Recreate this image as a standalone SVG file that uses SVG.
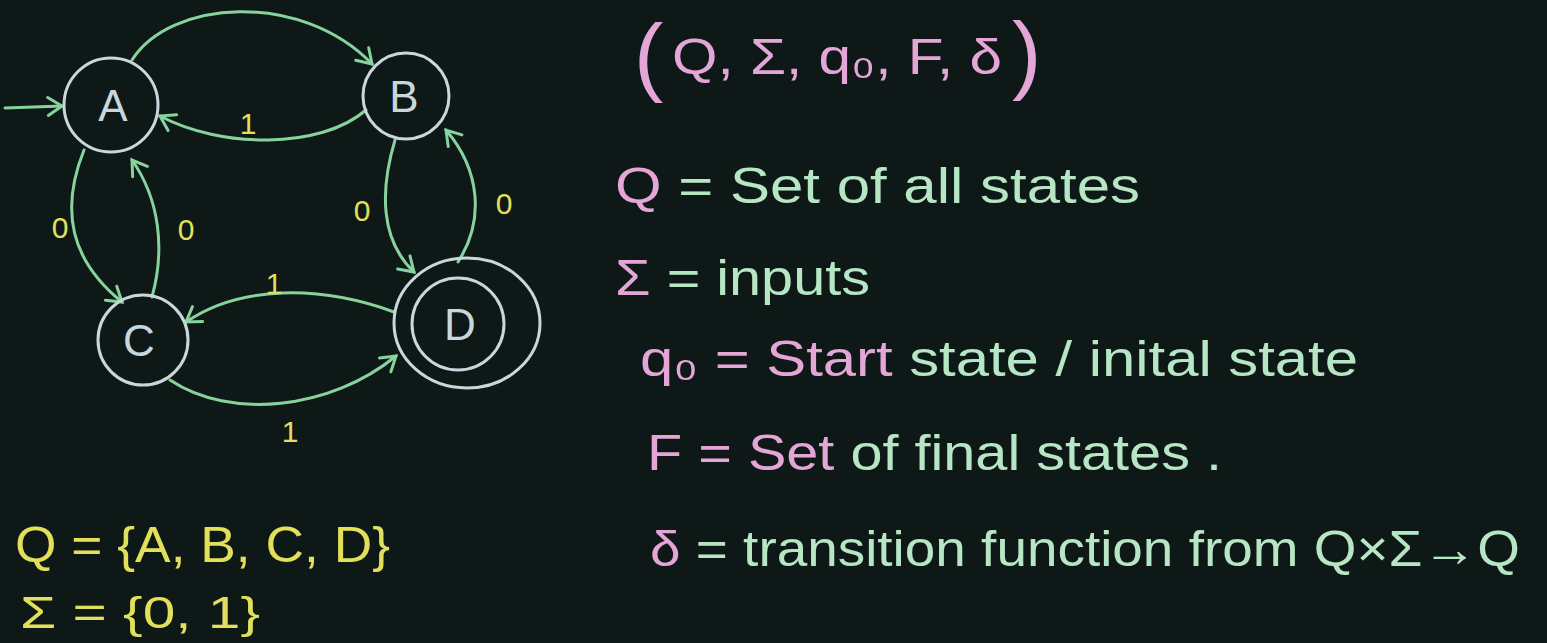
<svg xmlns="http://www.w3.org/2000/svg" width="1547" height="643" viewBox="0 0 1547 643">
<defs>
<style>
.node{fill:none;stroke:#c9d6dc;stroke-width:3}
.nl{fill:#c9d6dc;font-family:"Liberation Sans",sans-serif;font-size:44px;text-anchor:middle}
.edge{fill:none;stroke:#86d39e;stroke-width:3;stroke-linecap:round}
.lab{fill:#e2e05a;font-family:"Liberation Sans",sans-serif;font-size:30px;text-anchor:middle}
.pink{fill:#e3a6d6}
.grn{fill:#b6e6c4}
.yel{fill:#e2e05a}
.t{font-family:"Liberation Sans",sans-serif;font-size:50px}
.par{font-family:"Liberation Sans",sans-serif;font-size:88px}
</style>
<marker id="arr" markerUnits="userSpaceOnUse" markerWidth="22" markerHeight="22" refX="17" refY="11" orient="auto">
<path d="M3,2 L17,11 L3,20" fill="none" stroke="#86d39e" stroke-width="3" stroke-linecap="round"/>
</marker>
</defs>
<rect width="1547" height="643" fill="#0e1816"/>
<g id="connectors">
<path class="edge" d="M5,108 L62,106" marker-end="url(#arr)"/>
<path class="edge" d="M132,60 C170,0 300,-10 372,64" marker-end="url(#arr)"/>
<path class="edge" d="M366,110 C320,150 220,148 160,116" marker-end="url(#arr)"/>
<path class="edge" d="M84,150 C60,210 70,260 122,302" marker-end="url(#arr)"/>
<path class="edge" d="M152,297 C165,250 160,200 132,160" marker-end="url(#arr)"/>
<path class="edge" d="M395,140 C380,190 380,240 414,272" marker-end="url(#arr)"/>
<path class="edge" d="M458,262 C485,220 480,170 446,130" marker-end="url(#arr)"/>
<path class="edge" d="M394,312 C320,285 240,285 186,322" marker-end="url(#arr)"/>
<path class="edge" d="M170,380 C230,420 330,410 396,356" marker-end="url(#arr)"/>
<text class="lab" x="248" y="134">1</text>
<text class="lab" x="60" y="238">0</text>
<text class="lab" x="186" y="240">0</text>
<text class="lab" x="362" y="221">0</text>
<text class="lab" x="504" y="214">0</text>
<text class="lab" x="274" y="294">1</text>
<text class="lab" x="290" y="442">1</text>
</g>
<g id="node-A">
<circle class="node" cx="111" cy="105" r="47"/>
<text class="nl" x="113" y="121">A</text>
</g>
<g id="node-B">
<circle class="node" cx="406" cy="96" r="43"/>
<text class="nl" x="404" y="112">B</text>
</g>
<g id="node-C">
<circle class="node" cx="143" cy="340" r="45"/>
<text class="nl" x="139" y="356">C</text>
</g>
<g id="node-D">
<ellipse class="node" cx="467" cy="323" rx="73" ry="65"/>
<circle class="node" cx="458" cy="324" r="46"/>
<text class="nl" x="460" y="340">D</text>
</g>
<g id="tuple">
<text class="par pink" x="634" y="85">(</text>
<text class="t pink" x="672" y="74" textLength="330" lengthAdjust="spacingAndGlyphs">Q, Σ, q₀, F, δ</text>
<text class="par pink" x="1012" y="83">)</text>
</g>
<g id="definitions">
<text class="t" x="615" y="203" textLength="525" lengthAdjust="spacingAndGlyphs"><tspan class="pink">Q</tspan><tspan class="grn"> = Set of all states</tspan></text>
<text class="t" x="615" y="295" textLength="255" lengthAdjust="spacingAndGlyphs"><tspan class="pink">Σ</tspan><tspan class="grn"> = inputs</tspan></text>
<text class="t" x="640" y="376" textLength="718" lengthAdjust="spacingAndGlyphs"><tspan class="pink">q₀ = Start</tspan><tspan class="grn"> state / inital state</tspan></text>
<text class="t" x="647" y="470" textLength="575" lengthAdjust="spacingAndGlyphs"><tspan class="pink">F = Set</tspan><tspan class="grn"> of final states .</tspan></text>
<text class="t" x="650" y="566" textLength="870" lengthAdjust="spacingAndGlyphs"><tspan class="pink">δ</tspan><tspan class="grn"> = transition function from Q×Σ→Q</tspan></text>
</g>
<g id="sets">
<text class="t yel" x="15" y="562" textLength="375" lengthAdjust="spacingAndGlyphs">Q = {A, B, C, D}</text>
<text class="t yel" x="20" y="628" style="font-size:44px" textLength="240" lengthAdjust="spacingAndGlyphs">Σ = {0, 1}</text>
</g>
</svg>
